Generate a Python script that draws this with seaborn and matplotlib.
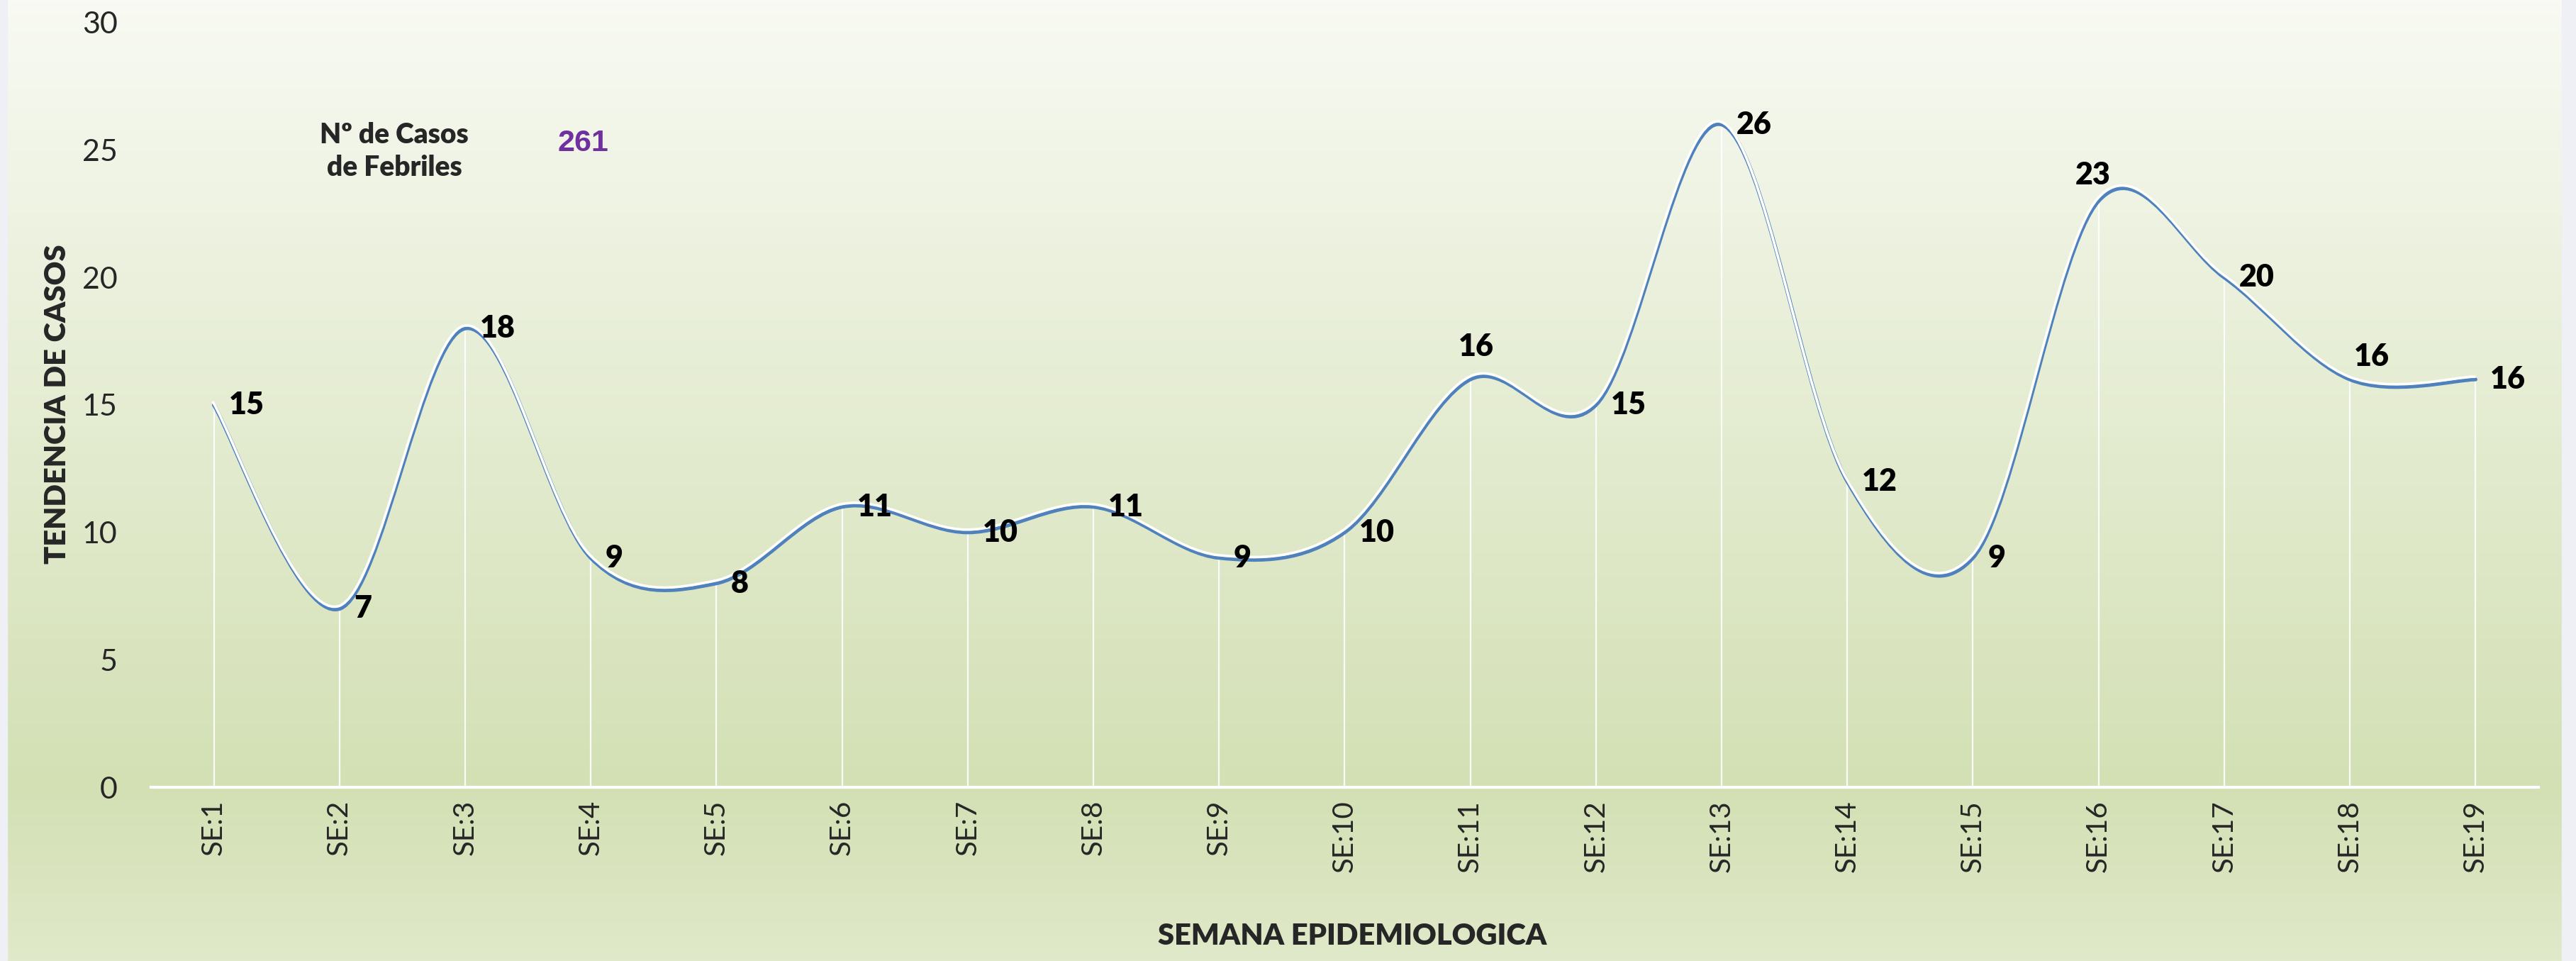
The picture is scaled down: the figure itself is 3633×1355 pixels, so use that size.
import numpy as np
import pandas as pd
import matplotlib
matplotlib.use("Agg")
import matplotlib.pyplot as plt
import matplotlib.transforms as mtransforms
from matplotlib.path import Path
from matplotlib.patches import PathPatch, Rectangle
import seaborn as sns

# datos
semanas = [f"SE:{i}" for i in range(1, 20)]
casos = [15, 7, 18, 9, 8, 11, 10, 11, 9, 10, 16, 15, 26, 12, 9, 23, 20, 16, 16]
total_casos = 261

# etiquetas encima del punto (resto a la derecha), desplazamiento en pt
etiqueta_arriba = {10: (6, 33), 15: (-6, 26), 17: (22, 23)}

df = pd.DataFrame({"semana": semanas, "casos": casos})
df["x"] = np.arange(len(df))

sns.set_theme(style="white")
plt.rcParams['font.family'] = ['Lato', 'DejaVu Sans']


def curva_suave(xs, ys):
    # bezier tipo excel (catmull-rom)
    pts = np.column_stack([xs, ys]).astype(float)
    n = len(pts)
    verts = [pts[0]]
    codes = [Path.MOVETO]
    for i in range(n - 1):
        p0 = pts[i - 1] if i > 0 else pts[i]
        p1 = pts[i]
        p2 = pts[i + 1]
        p3 = pts[i + 2] if i + 2 < n else pts[i + 1]
        verts += [p1 + (p2 - p0) / 6, p2 - (p3 - p1) / 6, p2]
        codes += [Path.CURVE4] * 3
    return Path(verts, codes)


fig = plt.figure(figsize=(36.33, 13.55), dpi=100)

# fondo degradado
bg = fig.add_axes([0, 0, 1, 1], zorder=-10)
h = 400
t = np.linspace(0, 1, h)
top = np.array([248, 250, 243]) / 255
mid = np.array([211, 224, 180]) / 255
bot = np.array([224, 233, 201]) / 255
k = 0.82
cols = np.where(t[:, None] < k,
                top + (mid - top) * (t[:, None] / k),
                mid + (bot - mid) * ((t[:, None] - k) / (1 - k)))
bg.imshow(cols[:, None, :], aspect="auto", extent=[0, 1, 0, 1])
bg.add_patch(Rectangle((0, 0), 10 / 3633, 1, color="#eef0f5", zorder=5))
bg.add_patch(Rectangle((3613 / 3633, 0), 20 / 3633, 1, color="#eef0f5", zorder=5))
bg.set_xlim(0, 1)
bg.set_ylim(0, 1)
bg.axis("off")

ax = fig.add_axes([0.0586, 0.1808, 0.9268, 0.7956])
ax.set_facecolor("none")

# lineas de caida
ax.vlines(df["x"], 0, df["casos"], color="white", lw=1.6, alpha=0.9, zorder=1)

camino = curva_suave(df["x"], df["casos"])
ax.add_patch(PathPatch(camino, facecolor="none", edgecolor="#4F81BD", lw=3.8,
                       zorder=2, capstyle="round"))
brillo = ax.transData + mtransforms.ScaledTranslation(-0.8 / 72, 2.8 / 72, fig.dpi_scale_trans)
ax.add_patch(PathPatch(camino, facecolor="none", edgecolor="white", lw=2.6,
                       transform=brillo, zorder=3, capstyle="round"))

for i, v in enumerate(df["casos"]):
    if i in etiqueta_arriba:
        ax.annotate(str(v), (i, v), xytext=etiqueta_arriba[i], textcoords="offset points",
                    ha="center", va="center", fontsize=31, fontweight="heavy", color="black",
                    zorder=5)
    else:
        ax.annotate(str(v), (i, v), xytext=(15, 0), textcoords="offset points",
                    ha="left", va="center", fontsize=31, fontweight="heavy", color="black",
                    zorder=5)

ax.set_xlim(-0.5, len(df) - 0.5)
ax.set_ylim(0, 30)
ax.set_xticks(df["x"])
ax.set_xticklabels(df["semana"], rotation=90, fontsize=29)
ax.set_yticks(range(0, 31, 5))
ax.tick_params(axis="y", labelsize=31, length=0, pad=34)
ax.tick_params(axis="x", length=0, pad=13)

sns.despine(ax=ax, left=True, top=True, right=True)
ax.spines["bottom"].set_color("white")
ax.spines["bottom"].set_linewidth(3)
ax.grid(False)

fig.text(81 / 3633, 1 - 570 / 1355, "TENDENCIA DE CASOS", rotation=90, ha="center",
         va="center", fontsize=30, fontweight="heavy")
fig.text(0.525, 1 - 1320 / 1355, "SEMANA EPIDEMIOLOGICA", ha="center", va="center",
         fontsize=30, fontweight="heavy")

fig.text(556 / 3633, 1 - 213 / 1355, "Nº de Casos\nde Febriles", ha="center", va="center",
         fontsize=28, fontweight="heavy", linespacing=1.3)
fig.text(822 / 3633, 1 - 202 / 1355, str(total_casos), ha="center", va="center",
         fontsize=31, fontweight="bold", color="#7030A0",
         family=["Liberation Sans", "DejaVu Sans"])

fig.savefig("out.png", dpi=100)
